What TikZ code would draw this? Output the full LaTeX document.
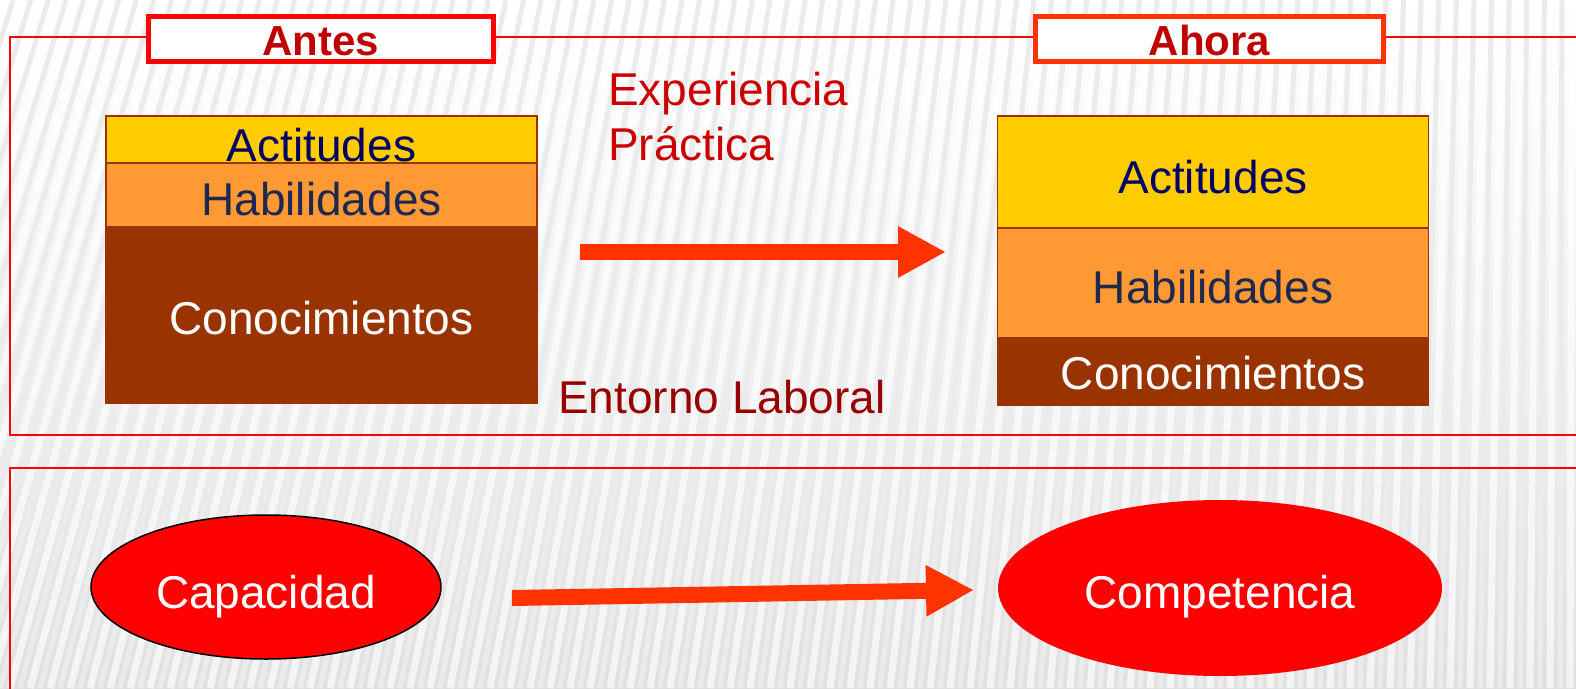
\documentclass[tikz,border=0pt]{standalone}
\usepackage{fontspec}
\setmainfont{Liberation Sans}
\usetikzlibrary{arrows.meta,shapes.geometric}
\definecolor{frred}{HTML}{FF0000}
\definecolor{ahred}{HTML}{FF3300}
\definecolor{arrowred}{HTML}{FF3300}
\definecolor{actyel}{HTML}{FFCC00}
\definecolor{habor}{HTML}{FF9933}
\definecolor{conbr}{HTML}{993300}
\definecolor{navytxt}{HTML}{000066}
\definecolor{habtxt}{HTML}{1F2850}
\definecolor{titred}{HTML}{C00000}
\definecolor{exptxt}{HTML}{CC0000}
\definecolor{enttxt}{HTML}{990000}
\tikzset{
  bigfont/.style={font=\fontsize{46pt}{50pt}\selectfont},
  titlebox/.style={draw, line width=5pt, fill=white, rectangle, inner sep=0pt,
    minimum height=45pt, text=titred, font=\bfseries\fontsize{42pt}{46pt}\selectfont,
    text height=32pt, text depth=0pt},
  layer/.style={rectangle, draw=conbr, line width=1.5pt, inner sep=0pt,
    minimum width=431pt, bigfont, text depth=0pt},
  oval/.style={ellipse, fill=red, inner sep=0pt, text=white, bigfont, text depth=0pt},
  bigarrow/.style={arrowred, line width=16pt, -{Triangle[length=48pt,width=48pt]}},
  frame/.style={frred, line width=2pt},
  free/.style={bigfont, inner sep=0pt, anchor=base west}
}
\begin{document}
\begin{tikzpicture}[x=1pt,y=-1pt]
\useasboundingbox (0,0) rectangle (1576,688);
\begin{scope}
\clip (0,0) rectangle (1576,688);
% background
\shade[top color=white, bottom color=gray!24] (0,0) rectangle (1576,688);
\foreach \x in {-300,-280,...,1600} {
  \pgfmathsetmacro\dx{(1576-\x)*0.12}
  \draw[gray!16, line width=5pt] (\x,688) -- (\x+\dx,0);
  \draw[white, opacity=0.65, line width=7pt] (\x+10,688) -- (\x+10+\dx,0);
}
% frames
\draw[frame] (1590,37) -- (10,37) -- (10,435) -- (1590,435);
\draw[frame] (1590,468) -- (10,468) -- (10,700);
\end{scope}
% titles
\node[titlebox, draw=frred, minimum width=345pt] (antes) at (321,39) {Antes};
\node[titlebox, draw=ahred, minimum width=348pt] (ahora) at (1209.5,39) {Ahora};
% left stack
\node[layer, fill=actyel, minimum height=47pt, text=navytxt, text height=43pt] (lact) at (321.5,139.5) {Actitudes};
\node[layer, fill=habor, minimum height=64pt, text=habtxt, text height=40pt] (lhab) at (321.5,195) {Habilidades};
\node[layer, fill=conbr, minimum height=176pt, text=white, text height=38pt] (lcon) at (321.5,315) {Conocimientos};
% right stack
\node[layer, fill=actyel, minimum height=112pt, text=navytxt, text height=42pt] (ract) at (1213,172) {Actitudes};
\node[layer, fill=habor, minimum height=110pt, text=habtxt, text height=40pt] (rhab) at (1213,283) {Habilidades};
\node[layer, fill=conbr, minimum height=67pt, text=white, text height=35pt] (rcon) at (1213,371.5) {Conocimientos};
% labels
\node[free, text=exptxt] (exp) at (608,105) {Experiencia};
\node[free, text=exptxt] (prac) at (608,160) {Práctica};
\node[free, text=enttxt] (ent) at (558,413) {Entorno Laboral};
% top arrow
\coordinate (a1s) at (580,252);
\coordinate (a1e) at (946,252);
\draw[bigarrow] (a1s) -- (a1e);
% ellipses
\node[oval, draw=black, line width=1.5pt, minimum width=350pt, minimum height=144pt, text height=42pt] (cap) at (266,587) {Capacidad};
\node[oval, minimum width=444pt, minimum height=176pt, text height=40pt] (comp) at (1220,588) {Competencia};
% bottom arrow
\coordinate (a2s) at (512,598);
\coordinate (a2e) at (974,590);
\draw[bigarrow] (a2s) -- (a2e);
\end{tikzpicture}
\end{document}
